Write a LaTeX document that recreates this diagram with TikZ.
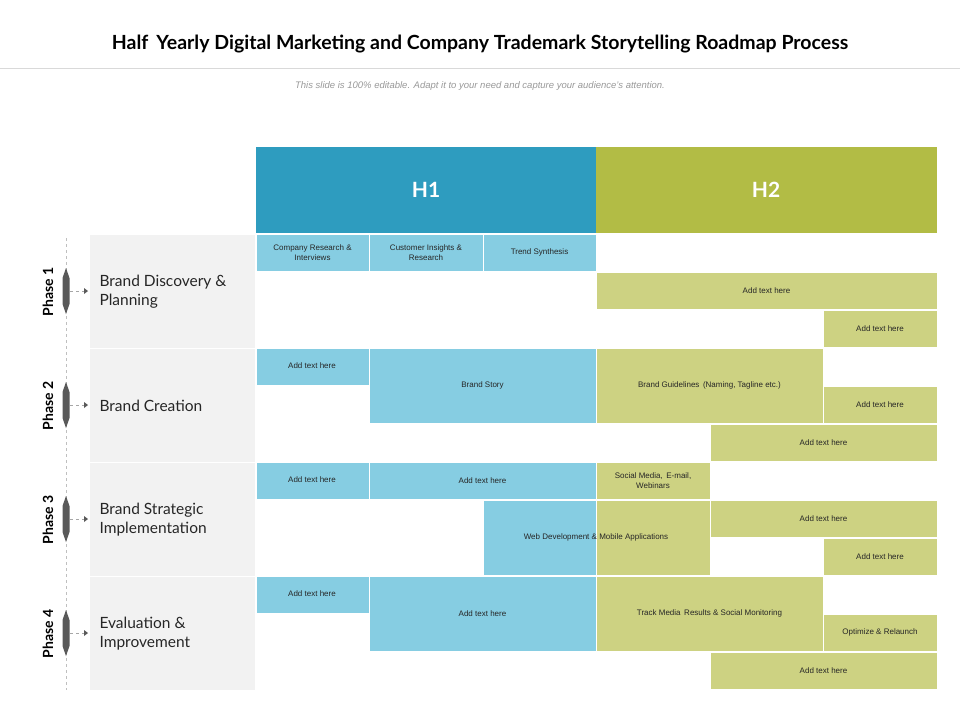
\documentclass[tikz,border=0pt]{standalone}
\usepackage{fontspec}
\setmainfont{Liberation Sans}
\newfontfamily\gothic{Lato}
\definecolor{hone}{HTML}{2E9CBF}
\definecolor{htwo}{HTML}{B2BC45}
\definecolor{lblue}{HTML}{86CDE2}
\definecolor{lgreen}{HTML}{CDD282}
\definecolor{lgray}{HTML}{F2F2F2}
\tikzset{
  cell/.style={draw=white,line width=1pt},
  ctext/.style={font=\fontsize{8}{9.5}\selectfont,align=center,text=black!85},
  phase/.style={font=\gothic\bfseries\fontsize{14}{15}\selectfont,rotate=90},
  lab/.style={font=\gothic\fontsize{15.5}{19}\selectfont,anchor=west,align=left,text=black!85},
}
\begin{document}
\begin{tikzpicture}[x=1pt,y=-1pt]
\useasboundingbox (0,0) rectangle (960,720);
\fill[white] (0,0) rectangle (960,720);
\node (title) at (480,44) {\gothic\bfseries\fontsize{19.5}{22}\selectfont Half\, Yearly Digital Marketing and Company Trademark Storytelling Roadmap Process};
\draw[black!15] (0,68) -- (960,68);
\node[text=black!40] (sub) at (480,86) {\itshape\fontsize{9.5}{11}\selectfont This slide is 100\% editable. Adapt it to your need and capture your audience's attention.};
% headers
\fill[hone] (256,147) rectangle (596,233);
\fill[htwo] (596,147) rectangle (937,233);
\node[text=white,font=\gothic\bfseries\fontsize{21}{23}\selectfont] (h1) at (426,190) {H1};
\node[text=white,font=\gothic\bfseries\fontsize{21}{23}\selectfont] (h2) at (766,190) {H2};
\draw[black!25,dashed] (66,238) -- (66,690);
% left gray boxes and phases
\foreach \i/\t/\y in {1/{Brand Discovery \&\\Planning}/234,2/{Brand Creation}/348,3/{Brand Strategic\\Implementation}/462,4/{Evaluation \&\\Improvement}/576}{
  \fill[lgray,cell] (89,\y) rectangle (255,\y+114);
  \node[lab] (L\i) at (96,\y+58) {\t};
  \node[phase] (P\i) at (48,\y+58) {Phase \i};
  \fill[black!65] (66,\y+34) -- (69.5,\y+44) -- (69.5,\y+70) -- (66,\y+80) -- (62.5,\y+70) -- (62.5,\y+44) -- cycle;
  \coordinate (m\i) at (70,\y+57);
  \draw[black!35,dashed] (m\i) -- (86,\y+57);
  \fill[black!65] (88,\y+57) -- (84,\y+54) -- (84,\y+60) -- cycle;
}
% cells
\newcommand\bx[6]{\fill[#1,cell] (#2,#3) rectangle (#4,#5); \node[ctext] at ({(#2+#4)/2},{(#3+#5)/2}) {#6};}
\bx{lblue}{256}{234}{369}{271}{Company Research \&\\Interviews}
\bx{lblue}{369}{234}{483}{271}{Customer Insights \&\\Research}
\bx{lblue}{483}{234}{596}{271}{Trend Synthesis}
\bx{lgreen}{596}{272}{937}{309}{Add text here}
\bx{lgreen}{823}{310}{937}{347}{Add text here}
\fill[lblue,cell] (256,348) rectangle (369,385); \node[ctext] at (312,366) {Add text here};
\bx{lblue}{369}{348}{596}{423}{Brand Story}
\bx{lgreen}{596}{348}{823}{423}{Brand Guidelines\, (Naming, Tagline etc.)}
\bx{lgreen}{823}{386}{937}{423}{Add text here}
\bx{lgreen}{710}{424}{937}{461}{Add text here}
\fill[lblue,cell] (256,462) rectangle (369,499); \node[ctext] at (312,480) {Add text here};
\bx{lblue}{369}{462}{596}{499}{Add text here}
\bx{lgreen}{596}{462}{710}{499}{Social Media,\, E-mail,\\Webinars}
\fill[lblue,cell] (483,500) rectangle (596,575);
\fill[lgreen,cell] (596,500) rectangle (710,575);
\node[ctext] at (596,537) {Web Development \& Mobile Applications};
\bx{lgreen}{710}{500}{937}{537}{Add text here}
\bx{lgreen}{823}{538}{937}{575}{Add text here}
\fill[lblue,cell] (256,576) rectangle (369,613); \node[ctext] at (312,594) {Add text here};
\bx{lblue}{369}{576}{596}{651}{Add text here}
\bx{lgreen}{596}{576}{823}{651}{Track Media\, Results \& Social Monitoring}
\bx{lgreen}{823}{614}{937}{651}{Optimize \& Relaunch}
\bx{lgreen}{710}{652}{937}{689}{Add text here}
\end{tikzpicture}
\end{document}
